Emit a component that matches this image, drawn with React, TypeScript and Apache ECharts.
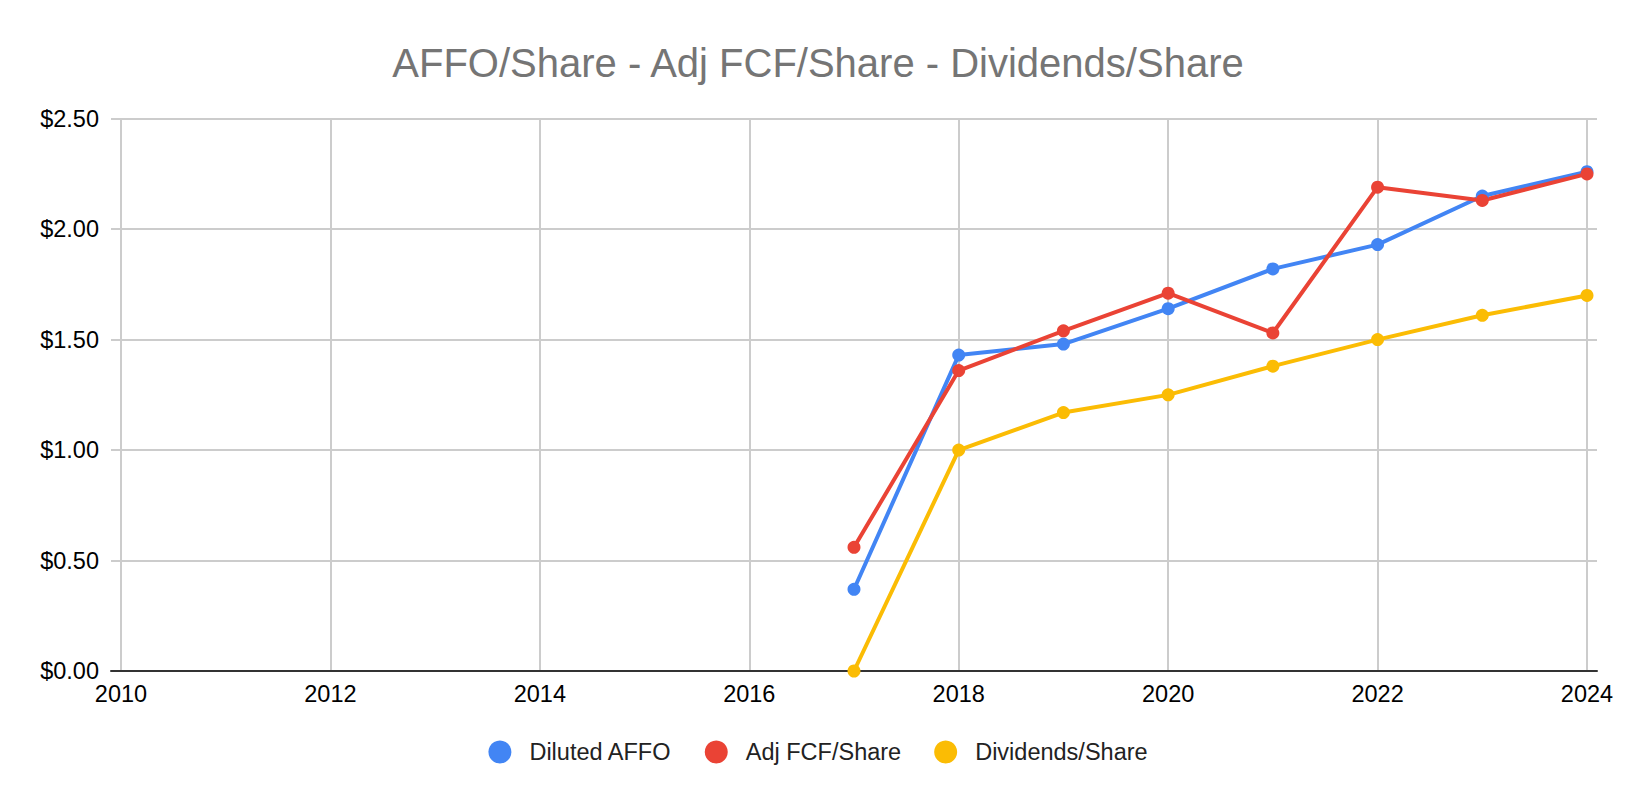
import React, { useEffect, useRef } from "react";
import * as echarts from "echarts";

const titleText = "AFFO/Share - Adj FCF/Share - Dividends/Share";
const years = [2017, 2018, 2019, 2020, 2021, 2022, 2023, 2024];
const dilutedAffo = [0.37, 1.43, 1.48, 1.64, 1.82, 1.93, 2.15, 2.26];
const adjFcfShare = [0.56, 1.36, 1.54, 1.71, 1.53, 2.19, 2.13, 2.25];
const dividendsShare = [0.0, 1.0, 1.17, 1.25, 1.38, 1.5, 1.61, 1.7];
const seriesNames = ["Diluted AFFO", "Adj FCF/Share", "Dividends/Share"];
const seriesColors = ["#4285F4", "#EA4335", "#FBBC04"];
const xMin = 2010;
const xMax = 2024;
const yMin = 0;
const yMax = 2.5;

const FONT = "Arial, 'Liberation Sans', sans-serif";

export default function App() {
  const ref = useRef<HTMLDivElement>(null);

  useEffect(() => {
    if (!ref.current) return;
    const chart = echarts.init(ref.current, undefined, { renderer: "svg" });
    const seriesData = [dilutedAffo, adjFcfShare, dividendsShare];
    const option: any = {
      animation: false,
      backgroundColor: "#ffffff",
      textStyle: { fontFamily: FONT },
      title: {
        text: titleText,
        left: "center",
        top: 38,
        textStyle: {
          fontFamily: FONT,
          fontSize: 40,
          fontWeight: "normal",
          color: "#757575",
        },
      },
      legend: {
        data: seriesNames,
        left: "center",
        top: 735,
        icon: "circle",
        itemWidth: 23,
        itemHeight: 23,
        itemGap: 33,
        textStyle: {
          fontFamily: FONT,
          fontSize: 23.5,
          color: "#222222",
          padding: [0, 0, 0, 13],
        },
      },
      grid: [
        { left: 111, right: 39, top: 118.7, bottom: 127, containLabel: false },
        { left: 121, right: 49, top: 118.7, bottom: 127, containLabel: false },
      ],
      xAxis: [
        {
          type: "value",
          gridIndex: 0,
          min: 0,
          max: 1,
          z: 3,
          axisLine: { show: true, lineStyle: { color: "#333333", width: 2 } },
          axisTick: { show: false },
          axisLabel: { show: false },
          splitLine: { show: false },
        },
        {
          type: "value",
          gridIndex: 1,
          min: xMin,
          max: xMax,
          interval: 2,
          axisLine: { show: false },
          axisTick: { show: false },
          axisLabel: {
            show: true,
            margin: 11,
            fontFamily: FONT,
            fontSize: 23.5,
            color: "#000000",
            formatter: (v: number) => String(v),
          },
          splitLine: { show: true, lineStyle: { color: "#cccccc", width: 2 } },
        },
      ],
      yAxis: [
        {
          type: "value",
          gridIndex: 0,
          min: yMin,
          max: yMax,
          interval: 0.5,
          axisLine: { show: false },
          axisTick: { show: false },
          axisLabel: {
            show: true,
            margin: 12,
            fontFamily: FONT,
            fontSize: 23.5,
            color: "#000000",
            formatter: (v: number) => "$" + v.toFixed(2),
          },
          splitLine: { show: true, lineStyle: { color: "#cccccc", width: 2 } },
        },
        {
          type: "value",
          gridIndex: 1,
          min: yMin,
          max: yMax,
          interval: 0.5,
          show: false,
          splitLine: { show: false },
        },
      ],
      series: seriesNames.map((name, i) => ({
        name,
        type: "line",
        xAxisIndex: 1,
        yAxisIndex: 1,
        data: years.map((y, j) => [y, seriesData[i][j]]),
        symbol: "circle",
        symbolSize: 13,
        showSymbol: true,
        showAllSymbol: true,
        color: seriesColors[i],
        lineStyle: { color: seriesColors[i], width: 4 },
        itemStyle: { color: seriesColors[i] },
        emphasis: { disabled: true },
      })),
    };
    chart.setOption(option);
    return () => chart.dispose();
  }, []);

  return (
    <div
      ref={ref}
      style={{ position: "fixed", left: 0, top: 0, width: 1636, height: 798 }}
    />
  );
}
